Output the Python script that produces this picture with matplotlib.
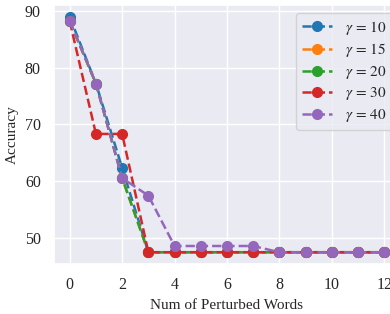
import matplotlib
matplotlib.use("Agg")
import matplotlib.pyplot as plt
import seaborn as sns

sns.set_theme(style="darkgrid", palette="tab10")
plt.rcParams["font.family"] = ["Liberation Serif", "DejaVu Serif"]
plt.rcParams["mathtext.fontset"] = "stix"

words = list(range(13))
acc_10 = [89.0, 77.2, 62.3, 47.4, 47.4, 47.4, 47.4, 47.4, 47.4, 47.4, 47.4, 47.4, 47.4]
acc_15 = [88.2, 77.2, 60.5, 47.4, 47.4, 47.4, 47.4, 47.4, 47.4, 47.4, 47.4, 47.4, 47.4]
acc_20 = [88.2, 77.2, 60.5, 47.4, 47.4, 47.4, 47.4, 47.4, 47.4, 47.4, 47.4, 47.4, 47.4]
acc_30 = [88.2, 68.3, 68.3, 47.4, 47.4, 47.4, 47.4, 47.4, 47.4, 47.4, 47.4, 47.4, 47.4]
acc_40 = [88.2, 77.2, 60.5, 57.4, 48.5, 48.5, 48.5, 48.5, 47.4, 47.4, 47.4, 47.4, 47.4]
gammas = [10, 15, 20, 30, 40]
series = [acc_10, acc_15, acc_20, acc_30, acc_40]

fig = plt.figure(figsize=(3.9, 3.14), dpi=100)
ax = fig.add_axes([54 / 390, 1 - 264 / 314, 346 / 390, 259 / 314])

for g, vals in zip(gammas, series):
    ax.plot(words, vals, "--o", lw=1.8, ms=7, label=r"$\gamma\,=\,%d$" % g)

ax.set_xticks([0, 2, 4, 6, 8, 10, 12])
ax.set_yticks([50, 60, 70, 80, 90])
ax.tick_params(labelsize=11.5)
ax.set_xlabel("Num of Perturbed Words", fontsize=11)
ax.set_ylabel("Accuracy", fontsize=11)
ax.legend(loc="upper right", fontsize=11, labelspacing=0.3, borderaxespad=0.5)

fig.savefig("out.png", dpi=100)
